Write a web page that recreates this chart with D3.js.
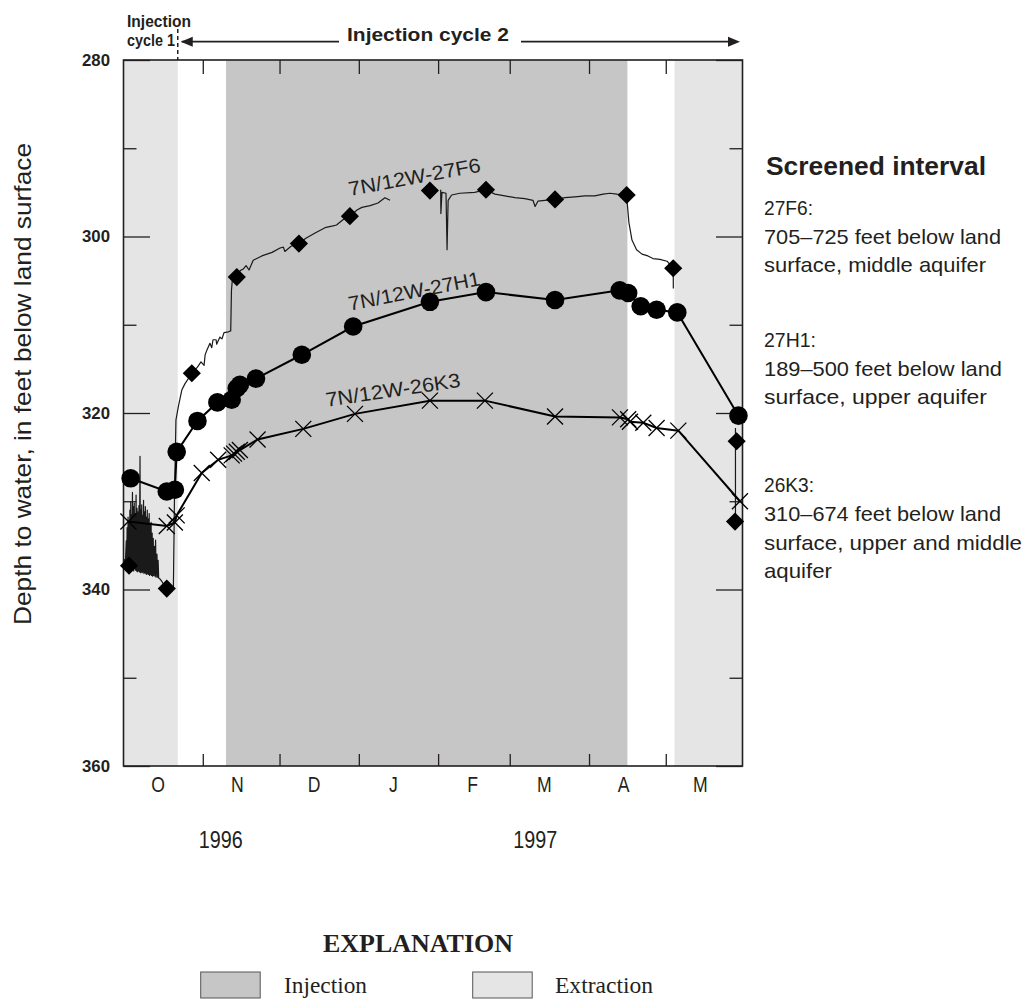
<!DOCTYPE html>
<html>
<head>
<meta charset="utf-8">
<script src="https://cdn.jsdelivr.net/npm/d3@7"></script>
<style>
  body { margin: 0; background: #fff; }
  svg { display: block; }
</style>
</head>
<body>
<svg id="chart" width="1026" height="999"></svg>
<script>
// ---------------- data ----------------
const monthLabels = ["O", "N", "D", "J", "F", "M", "A", "M"];
const yearLabels = ["1996", "1997"];
const yearLabelDates = ["1996-11-08T00:00", "1997-03-11T00:00"];
const depthTicks = [280, 300, 320, 340, 360];
const depthMinorTicks = [290, 310, 330, 350];

const injectionPeriods = [["1996-11-10T02:00", "1997-04-16T00:00"]];
const extractionPeriods = [["1996-10-01T00:00", "1996-10-22T05:00"], ["1997-05-04T10:00", "1997-05-31T00:00"]];
const cycleBoundary = "1996-10-22T05:00";

// 7N/12W-27F6: continuous water-level record (three pieces)
const record27F6a = [
  ["1996-10-01T00:00", 337.0], ["1996-10-01T10:00", 336.6], ["1996-10-01T16:00", 337.3],
  ["1996-10-02T02:00", 334.5], ["1996-10-02T06:00", 337.4], ["1996-10-02T10:00", 333.0], ["1996-10-02T14:00", 337.5],
  ["1996-10-02T19:00", 331.8], ["1996-10-02T23:00", 337.6], ["1996-10-03T04:00", 332.4], ["1996-10-03T08:00", 337.4],
  ["1996-10-03T12:00", 331.0], ["1996-10-03T16:00", 337.7], ["1996-10-03T20:00", 330.1], ["1996-10-04T00:00", 337.6],
  ["1996-10-04T05:00", 331.5], ["1996-10-04T08:00", 337.8], ["1996-10-04T12:00", 329.0], ["1996-10-04T16:00", 337.7],
  ["1996-10-04T20:00", 330.6], ["1996-10-05T00:00", 337.9], ["1996-10-05T05:00", 330.2], ["1996-10-05T09:00", 337.6],
  ["1996-10-05T13:00", 331.4], ["1996-10-05T17:00", 337.8], ["1996-10-05T22:00", 329.3], ["1996-10-06T02:00", 337.9],
  ["1996-10-06T07:00", 330.8], ["1996-10-06T11:00", 338.0], ["1996-10-06T16:00", 331.2], ["1996-10-06T20:00", 337.9],
  ["1996-10-07T01:00", 330.5], ["1996-10-07T05:00", 338.0], ["1996-10-07T11:00", 324.9], ["1996-10-07T15:00", 338.1],
  ["1996-10-07T19:00", 331.0], ["1996-10-07T23:00", 338.0], ["1996-10-08T03:00", 330.4], ["1996-10-08T07:00", 338.1],
  ["1996-10-08T12:00", 331.6], ["1996-10-08T16:00", 338.0], ["1996-10-08T20:00", 329.9], ["1996-10-09T00:00", 338.2],
  ["1996-10-09T05:00", 331.2], ["1996-10-09T09:00", 338.1], ["1996-10-09T13:00", 330.6], ["1996-10-09T17:00", 338.2],
  ["1996-10-09T22:00", 331.8], ["1996-10-10T02:00", 338.3], ["1996-10-10T07:00", 331.0], ["1996-10-10T11:00", 338.2],
  ["1996-10-10T16:00", 332.0], ["1996-10-10T20:00", 338.3], ["1996-10-11T01:00", 331.4], ["1996-10-11T05:00", 338.4],
  ["1996-10-11T10:00", 332.6], ["1996-10-11T14:00", 338.3], ["1996-10-11T19:00", 332.4], ["1996-10-11T23:00", 338.4],
  ["1996-10-12T05:00", 333.6], ["1996-10-12T09:00", 338.5], ["1996-10-12T15:00", 334.2], ["1996-10-12T19:00", 338.4],
  ["1996-10-13T02:00", 335.1], ["1996-10-13T07:00", 338.5], ["1996-10-13T13:00", 334.4], ["1996-10-13T18:00", 338.6],
  ["1996-10-14T02:00", 336.0], ["1996-10-14T07:00", 338.6], ["1996-10-14T13:00", 336.7], ["1996-10-14T18:00", 338.7],
  ["1996-10-15T06:00", 338.8], ["1996-10-16T01:00", 339.1], ["1996-10-17T00:00", 339.6],
  ["1996-10-17T22:00", 339.9], ["1996-10-20T12:00", 339.8], ["1996-10-20T22:00", 329.9], ["1996-10-21T12:00", 320.8],
  ["1996-10-22T10:00", 319.3], ["1996-10-23T19:00", 317.4], ["1996-10-25T00:00", 316.7], ["1996-10-27T17:00", 315.5],
  ["1996-10-29T22:00", 314.8], ["1996-10-31T07:00", 314.2], ["1996-11-01T12:00", 314.6], ["1996-11-01T22:00", 313.4],
  ["1996-11-02T14:00", 312.9], ["1996-11-03T19:00", 312.1], ["1996-11-04T12:00", 312.6], ["1996-11-05T00:00", 311.7],
  ["1996-11-06T05:00", 311.7], ["1996-11-06T10:00", 312.2], ["1996-11-07T17:00", 311.4], ["1996-11-08T12:00", 311.6],
  ["1996-11-09T07:00", 310.9], ["1996-11-11T00:00", 310.8], ["1996-11-11T22:00", 310.7], ["1996-11-12T05:00", 306.1],
  ["1996-11-12T14:00", 304.8], ["1996-11-14T07:00", 304.6], ["1996-11-15T05:00", 304.0], ["1996-11-16T00:00", 303.8],
  ["1996-11-16T19:00", 303.7], ["1996-11-17T22:00", 303.3], ["1996-11-19T02:00", 303.8], ["1996-11-20T17:00", 302.7],
  ["1996-11-24T02:00", 302.2], ["1996-11-28T02:00", 301.8], ["1996-12-01T05:00", 301.3], ["1996-12-02T12:00", 301.2],
  ["1996-12-03T02:00", 301.7], ["1996-12-05T12:00", 301.1], ["1996-12-08T14:00", 300.8], ["1996-12-11T07:00", 300.2],
  ["1996-12-14T22:00", 299.6], ["1996-12-18T19:00", 299.0], ["1996-12-21T22:00", 298.8], ["1996-12-23T07:00", 298.7],
  ["1996-12-25T19:00", 298.1], ["1996-12-28T12:00", 297.7], ["1996-12-31T07:00", 297.0], ["1997-01-02T05:00", 296.7],
  ["1997-01-05T10:00", 296.5], ["1997-01-08T12:00", 296.2], ["1997-01-11T05:00", 295.6], ["1997-01-13T05:00", 295.9]
];
const record27F6b = [
  ["1997-02-02T00:00", 294.7], ["1997-02-02T02:00", 297.4], ["1997-02-02T12:00", 295.0], ["1997-02-04T02:00", 295.1],
  ["1997-02-04T12:00", 301.5], ["1997-02-04T22:00", 295.9], ["1997-02-06T07:00", 295.3], ["1997-02-09T12:00", 295.1],
  ["1997-02-15T07:00", 295.0], ["1997-02-19T17:00", 294.7], ["1997-02-23T05:00", 295.2], ["1997-02-27T02:00", 295.4],
  ["1997-03-03T00:00", 295.6], ["1997-03-06T22:00", 295.7], ["1997-03-10T02:00", 295.9], ["1997-03-10T22:00", 296.6],
  ["1997-03-12T00:00", 296.0], ["1997-03-14T17:00", 295.9], ["1997-03-18T17:00", 295.8], ["1997-03-22T14:00", 295.6],
  ["1997-03-26T12:00", 295.5], ["1997-03-30T10:00", 295.4], ["1997-04-03T07:00", 295.4], ["1997-04-06T12:00", 295.2],
  ["1997-04-09T05:00", 295.1], ["1997-04-11T22:00", 295.2], ["1997-04-15T17:00", 295.3], ["1997-04-16T00:00", 296.4],
  ["1997-04-16T14:00", 298.4], ["1997-04-17T19:00", 300.4], ["1997-04-19T14:00", 301.5], ["1997-04-21T17:00", 302.0],
  ["1997-04-24T00:00", 302.2], ["1997-04-26T00:00", 302.5], ["1997-04-28T17:00", 302.6], ["1997-05-01T12:00", 302.8],
  ["1997-05-03T22:00", 303.6], ["1997-05-03T23:00", 305.9]
];
const record27F6c = [["1997-05-28T06:00", 321.7], ["1997-05-28T06:00", 332.3]];

// periodic tape measurements
const measured27F6 = [
  ["1996-10-03T04:00", 337.3], ["1996-10-17T22:00", 339.9], ["1996-10-27T17:00", 315.5], ["1996-11-14T07:00", 304.6],
  ["1996-12-08T14:00", 300.8], ["1996-12-28T12:00", 297.7], ["1997-01-28T19:00", 294.8], ["1997-02-19T17:00", 294.7],
  ["1997-03-18T17:00", 295.8], ["1997-04-15T17:00", 295.3], ["1997-05-03T22:00", 303.6], ["1997-05-28T17:00", 323.2],
  ["1997-05-28T02:00", 332.3]
];
const measured27H1 = [
  ["1996-10-03T19:00", 327.4], ["1996-10-17T22:00", 328.9], ["1996-10-21T02:00", 328.7], ["1996-10-21T19:00", 324.4],
  ["1996-10-29T22:00", 320.9], ["1996-11-06T17:00", 318.8], ["1996-11-12T07:00", 318.5], ["1996-11-14T07:00", 317.2],
  ["1996-11-15T12:00", 316.8], ["1996-11-21T19:00", 316.1], ["1996-12-09T17:00", 313.4], ["1996-12-29T19:00", 310.2],
  ["1997-01-28T19:00", 307.4], ["1997-02-19T17:00", 306.3], ["1997-03-18T17:00", 307.2], ["1997-04-13T00:00", 306.1],
  ["1997-04-16T07:00", 306.4], ["1997-04-21T05:00", 307.9], ["1997-04-27T10:00", 308.3], ["1997-05-05T12:00", 308.6],
  ["1997-05-29T10:00", 320.3]
];
const measured26K3 = [
  ["1996-10-02T22:00", 332.3], ["1996-10-17T22:00", 332.8], ["1996-10-21T02:00", 332.4], ["1996-10-21T19:00", 331.6],
  ["1996-10-31T14:00", 326.8], ["1996-11-07T00:00", 325.3], ["1996-11-12T07:00", 324.8], ["1996-11-13T05:00", 324.6],
  ["1996-11-14T07:00", 324.4], ["1996-11-15T12:00", 324.2], ["1996-11-22T10:00", 323.0], ["1996-12-10T07:00", 321.8],
  ["1996-12-30T12:00", 320.1], ["1997-01-28T19:00", 318.6], ["1997-02-19T07:00", 318.6], ["1997-03-18T17:00", 320.4],
  ["1997-04-13T02:00", 320.5], ["1997-04-16T07:00", 320.7], ["1997-04-17T00:00", 321.0], ["1997-04-22T05:00", 321.1],
  ["1997-04-27T10:00", 321.7], ["1997-05-05T22:00", 322.0], ["1997-05-30T00:00", 330.0]
];

const wellLabels = [
  { text: "7N/12W-27F6", date: "1996-12-28T12:00", depth: 295.4, angle: -10.5, len: 134 },
  { text: "7N/12W-27H1", date: "1996-12-28T12:00", depth: 308.4, angle: -11, len: 134 },
  { text: "7N/12W-26K3", date: "1996-12-19T10:00", depth: 319.3, angle: -8.5, len: 136 }
];

const screenedInterval = [
  { text: "27F6:", base: 215, len: 49 },
  { text: "705\u2013725 feet below land", base: 243.5, len: 237 },
  { text: "surface, middle aquifer", base: 272, len: 222 },
  { text: "27H1:", base: 347, len: 52 },
  { text: "189\u2013500 feet below land", base: 375.5, len: 238 },
  { text: "surface, upper aquifer", base: 404, len: 223 },
  { text: "26K3:", base: 492, len: 50 },
  { text: "310\u2013674 feet below land", base: 520.5, len: 237 },
  { text: "surface, upper and middle", base: 549.5, len: 258 },
  { text: "aquifer", base: 578, len: 68 }
];

// ---------------- setup ----------------
const parseDate = d3.timeParse("%Y-%m-%dT%H:%M");
const toPoints = arr => arr.map(([d, v]) => ({ date: parseDate(d), value: v }));

const INK = "#231f20";
const SANS = "'Liberation Sans', Arial, Helvetica, sans-serif";
const SERIF = "'Liberation Serif', 'Times New Roman', serif";

const svg = d3.select("#chart");
const x = d3.scaleTime()
  .domain([parseDate("1996-10-01T00:00"), parseDate("1997-05-31T00:00")])
  .range([123.5, 742.5]);
const y = d3.scaleLinear().domain([280, 360]).range([60, 766]);
const [x0, x1] = x.range();
const [y0, y1] = y.range();

// ---------------- pumping-period shading ----------------
function shade(periods, color) {
  svg.append("g").selectAll("rect").data(periods).join("rect")
    .attr("x", d => x(parseDate(d[0])))
    .attr("width", d => x(parseDate(d[1])) - x(parseDate(d[0])))
    .attr("y", y0).attr("height", y1 - y0)
    .attr("fill", color);
}
shade(extractionPeriods, "#e5e5e5");
shade(injectionPeriods, "#c6c6c6");

// ---------------- frame and ticks ----------------
svg.append("rect").attr("x", x0).attr("y", y0).attr("width", x1 - x0).attr("height", y1 - y0)
  .attr("fill", "none").attr("stroke", INK).attr("stroke-width", 1.6);

const monthStarts = d3.timeMonth.range(parseDate("1996-11-01T00:00"), parseDate("1997-05-02T00:00"));
function styleTicks(g) {
  g.select(".domain").remove();
  g.selectAll(".tick line").attr("stroke", INK).attr("stroke-width", 1.3);
}
svg.append("g").attr("transform", `translate(0,${y1})`)
  .call(d3.axisBottom(x).tickValues(monthStarts).tickSize(-12).tickFormat(""))
  .call(styleTicks);
svg.append("g").attr("transform", `translate(0,${y0})`)
  .call(d3.axisTop(x).tickValues(monthStarts).tickSize(-14).tickFormat(""))
  .call(styleTicks);

svg.append("g").attr("transform", `translate(${x0},0)`)
  .call(d3.axisLeft(y).tickValues(depthTicks).tickSize(-26.5).tickPadding(13.5).tickFormat(d3.format("d")))
  .call(styleTicks)
  .call(g => g.selectAll("text")
    .attr("fill", INK).attr("font-family", SANS).attr("font-size", 17).attr("font-weight", "bold")
    .attr("textLength", 28).attr("lengthAdjust", "spacingAndGlyphs"));
svg.append("g").attr("transform", `translate(${x0},0)`)
  .call(d3.axisLeft(y).tickValues(depthMinorTicks).tickSize(-13).tickFormat(""))
  .call(styleTicks);
svg.append("g").attr("transform", `translate(${x1},0)`)
  .call(d3.axisRight(y).tickValues(depthTicks).tickSize(-26.5).tickFormat(""))
  .call(styleTicks);
svg.append("g").attr("transform", `translate(${x1},0)`)
  .call(d3.axisRight(y).tickValues(depthMinorTicks).tickSize(-13).tickFormat(""))
  .call(styleTicks);

// month letters (condensed)
const monthMid = d3.timeMonth.range(parseDate("1996-10-01T00:00"), parseDate("1997-05-02T00:00"))
  .map(m => d3.timeHour.offset(m, 13.5 * 24));
svg.append("g").selectAll("g").data(monthLabels).join("g")
  .attr("transform", (d, i) => `translate(${x(monthMid[i])},792)`)
  .append("text")
  .attr("transform", "scale(0.8,1)")
  .attr("text-anchor", "middle")
  .attr("font-family", SANS).attr("font-size", 22).attr("fill", INK)
  .text(d => d);

svg.append("g").selectAll("text").data(yearLabels).join("text")
  .attr("x", (d, i) => x(parseDate(yearLabelDates[i])) - 22)
  .attr("y", 848)
  .attr("font-family", SANS).attr("font-size", 23).attr("fill", INK)
  .attr("textLength", 44).attr("lengthAdjust", "spacingAndGlyphs")
  .text(d => d);

// y-axis title
svg.append("text")
  .attr("transform", "translate(31,384) rotate(-90)")
  .attr("text-anchor", "middle")
  .attr("font-family", SANS).attr("font-size", 24.5).attr("fill", INK)
  .attr("textLength", 482).attr("lengthAdjust", "spacingAndGlyphs")
  .text("Depth to water, in feet below land surface");

// ---------------- well records ----------------
const line = d3.line().x(d => x(d.date)).y(d => y(d.value));

const traces = svg.append("g").attr("fill", "none").attr("stroke", "#1a1a1a")
  .attr("stroke-width", 1.2).attr("stroke-linejoin", "round");
[record27F6a, record27F6b, record27F6c].forEach(seg => traces.append("path").attr("d", line(toPoints(seg))));

const pts26K3 = toPoints(measured26K3);
const pts27H1 = toPoints(measured27H1);
const pts27F6 = toPoints(measured27F6);

svg.append("path").attr("d", line(pts26K3)).attr("fill", "none").attr("stroke", "#000").attr("stroke-width", 2);
svg.append("path").attr("d", line(pts27H1)).attr("fill", "none").attr("stroke", "#000").attr("stroke-width", 2);

const symbolX = {
  draw(ctx, size) {
    const r = Math.sqrt(size) / 2;
    ctx.moveTo(-r, -r); ctx.lineTo(r, r);
    ctx.moveTo(r, -r); ctx.lineTo(-r, r);
  }
};
svg.append("g").selectAll("path").data(pts26K3).join("path")
  .attr("transform", d => `translate(${x(d.date)},${y(d.value)})`)
  .attr("d", d3.symbol(symbolX, 256)())
  .attr("fill", "none").attr("stroke", "#000").attr("stroke-width", 1.3);

svg.append("g").selectAll("circle").data(pts27H1).join("circle")
  .attr("cx", d => x(d.date)).attr("cy", d => y(d.value)).attr("r", 9.3)
  .attr("fill", "#000");

svg.append("g").selectAll("path").data(pts27F6).join("path")
  .attr("transform", d => `translate(${x(d.date)},${y(d.value)}) rotate(45)`)
  .attr("d", d3.symbol(d3.symbolSquare, 165)())
  .attr("fill", "#000");

// well names along the curves
svg.append("g").selectAll("text").data(wellLabels).join("text")
  .attr("transform", d => `translate(${x(parseDate(d.date))},${y(d.depth)}) rotate(${d.angle})`)
  .attr("font-family", SANS).attr("font-size", 20).attr("fill", INK)
  .attr("textLength", d => d.len).attr("lengthAdjust", "spacingAndGlyphs")
  .text(d => d.text);

// ---------------- injection-cycle header ----------------
const xb = x(parseDate(cycleBoundary));
svg.append("line").attr("x1", xb).attr("x2", xb).attr("y1", 29).attr("y2", y0)
  .attr("stroke", INK).attr("stroke-width", 1.5).attr("stroke-dasharray", "4,3");
const header = svg.append("g").attr("font-family", SANS).attr("font-weight", "bold").attr("fill", INK);
header.append("text").attr("x", 127).attr("y", 26.5).attr("font-size", 17)
  .attr("textLength", 64).attr("lengthAdjust", "spacingAndGlyphs").text("Injection");
header.append("text").attr("x", 127).attr("y", 46).attr("font-size", 17)
  .attr("textLength", 48).attr("lengthAdjust", "spacingAndGlyphs").text("cycle 1");
header.append("text").attr("x", 347).attr("y", 41).attr("font-size", 19)
  .attr("textLength", 162).attr("lengthAdjust", "spacingAndGlyphs").text("Injection cycle 2");

const ay = 41.7;
svg.append("line").attr("x1", xb + 4).attr("x2", 339).attr("y1", ay).attr("y2", ay).attr("stroke", INK).attr("stroke-width", 1.8);
svg.append("line").attr("x1", 521).attr("x2", 732).attr("y1", ay).attr("y2", ay).attr("stroke", INK).attr("stroke-width", 1.8);
svg.append("path").attr("d", `M${xb + 3},${ay} L${xb + 15},${ay - 5} L${xb + 15},${ay + 5} Z`).attr("fill", INK);
svg.append("path").attr("d", `M740,${ay} L728,${ay - 5} L728,${ay + 5} Z`).attr("fill", INK);

// ---------------- screened interval notes ----------------
const notes = svg.append("g").attr("font-family", SANS).attr("fill", INK);
notes.append("text").attr("x", 766).attr("y", 175).attr("font-size", 25).attr("font-weight", "bold")
  .attr("textLength", 220).attr("lengthAdjust", "spacingAndGlyphs").text("Screened interval");
notes.selectAll("text.line").data(screenedInterval).join("text").attr("class", "line")
  .attr("x", 764).attr("y", d => d.base).attr("font-size", 21)
  .attr("textLength", d => d.len).attr("lengthAdjust", "spacingAndGlyphs")
  .text(d => d.text);

// ---------------- explanation ----------------
const legend = svg.append("g");
legend.append("text").attr("x", 418).attr("y", 951.5).attr("text-anchor", "middle")
  .attr("font-family", SERIF).attr("font-weight", "bold").attr("font-size", 25).attr("fill", INK)
  .attr("textLength", 190).attr("lengthAdjust", "spacingAndGlyphs").text("EXPLANATION");
const legendItems = [
  { label: "Injection", color: "#c6c6c6", bx: 200.7, tx: 284, len: 83 },
  { label: "Extraction", color: "#e5e5e5", bx: 472.7, tx: 555, len: 98 }
];
legendItems.forEach(it => {
  legend.append("rect").attr("x", it.bx).attr("y", 972).attr("width", 59.5).attr("height", 26)
    .attr("fill", it.color).attr("stroke", "#555").attr("stroke-width", 1);
  legend.append("text").attr("x", it.tx).attr("y", 993).attr("font-family", SERIF).attr("font-size", 23.5)
    .attr("fill", INK).attr("textLength", it.len).attr("lengthAdjust", "spacingAndGlyphs").text(it.label);
});
</script>
</body>
</html>
